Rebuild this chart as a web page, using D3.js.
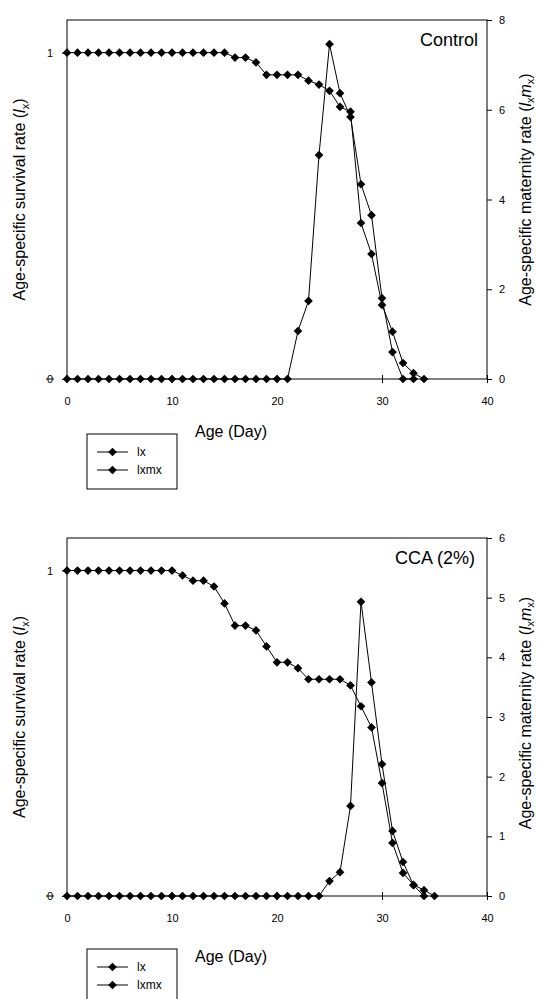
<!DOCTYPE html>
<html>
<head>
<meta charset="utf-8">
<script src="https://cdn.jsdelivr.net/npm/d3@7"></script>
<style>
  body { margin: 0; background: #fff; }
  svg { font-family: "Liberation Sans", Arial, sans-serif; }
</style>
</head>
<body>
<svg id="chart" width="538" height="999"></svg>
<script>
// ---- data (index = age in days) ----
const xTicks = [0, 10, 20, 30, 40];
const survivalTicks = [0, 1];
const controlMaternityTicks = [0, 2, 4, 6, 8];
const ccaMaternityTicks = [0, 1, 2, 3, 4, 5, 6];
const seriesNames = ["lx", "lxmx"];

const controlLx = [1, 1, 1, 1, 1, 1, 1, 1, 1, 1, 1, 1, 1, 1, 1, 1,
  0.985, 0.985, 0.97, 0.932, 0.932, 0.932, 0.932, 0.914, 0.902, 0.883,
  0.834, 0.819, 0.478, 0.383, 0.227, 0.145, 0.049, 0.018, 0];
const controlLxmx = [0, 0, 0, 0, 0, 0, 0, 0, 0, 0, 0, 0, 0, 0, 0, 0, 0, 0, 0, 0, 0, 0,
  1.07, 1.74, 4.99, 7.46, 6.37, 5.84, 4.34, 3.65, 1.80, 0.60, 0, 0];

const ccaLx = [1, 1, 1, 1, 1, 1, 1, 1, 1, 1, 1,
  0.985, 0.969, 0.969, 0.951, 0.899, 0.831, 0.831, 0.816, 0.767, 0.718,
  0.718, 0.70, 0.666, 0.666, 0.666, 0.666, 0.647, 0.583, 0.518, 0.347,
  0.163, 0.071, 0.034, 0.018, 0];
const ccaLxmx = [0, 0, 0, 0, 0, 0, 0, 0, 0, 0, 0, 0, 0, 0, 0, 0, 0, 0, 0, 0, 0, 0, 0, 0, 0,
  0.25, 0.40, 1.51, 4.93, 3.58, 2.21, 1.09, 0.57, 0.18, 0];

const panels = [
  { title: "Control", lx: controlLx, lxmx: controlLxmx, rightMax: 8, rightTicks: controlMaternityTicks,
    top: 20, bottom: 379, titleX: 478, xLabelOffset: 58, legendOffset: 55, rightTitleShift: -10 },
  { title: "CCA (2%)", lx: ccaLx, lxmx: ccaLxmx, rightMax: 6, rightTicks: ccaMaternityTicks,
    top: 538, bottom: 896, titleX: 475, xLabelOffset: 66, legendOffset: 53, rightTitleShift: -4 }
];

const left = 67, right = 487;
const svg = d3.select("#chart");
const marker = d3.symbol().type(d3.symbolSquare).size(38);

panels.forEach(p => drawPanel(p));

function drawPanel(p) {
  const g = svg.append("g");
  const x = d3.scaleLinear().domain([0, 40]).range([left, right]);
  const yL = d3.scaleLinear().domain([0, 1.1]).range([p.bottom, p.top]);
  const yR = d3.scaleLinear().domain([0, p.rightMax]).range([p.bottom, p.top]);

  // plot frame
  g.append("rect")
    .attr("x", left).attr("y", p.top)
    .attr("width", right - left).attr("height", p.bottom - p.top)
    .attr("fill", "none").attr("stroke", "#000").attr("stroke-width", 1);

  // axes
  const xAxis = g.append("g")
    .attr("transform", `translate(0,${p.bottom})`)
    .call(d3.axisBottom(x).tickValues(xTicks).tickSize(4).tickPadding(14).tickFormat(d3.format("d")));
  xAxis.selectAll(".tick").append("line").attr("y2", -4).attr("stroke", "#000");

  const yAxisL = g.append("g")
    .attr("transform", `translate(${left},0)`)
    .call(d3.axisLeft(yL).tickValues(survivalTicks).tickSize(5).tickPadding(9).tickFormat(d3.format("d")));

  const yAxisR = g.append("g")
    .attr("transform", `translate(${right},0)`)
    .call(d3.axisRight(yR).tickValues(p.rightTicks).tickSize(5).tickPadding(7).tickFormat(d3.format("d")));

  [xAxis, yAxisL, yAxisR].forEach(a => {
    a.select(".domain").remove();
    a.selectAll("text").attr("font-size", 11).attr("fill", "#000")
      .attr("font-family", "Liberation Sans, Arial, sans-serif");
    a.selectAll("line").attr("stroke", "#000");
  });

  // the stray stroke through the "0" label
  g.append("line")
    .attr("x1", 46).attr("x2", 54)
    .attr("y1", yL(0)).attr("y2", yL(0))
    .attr("stroke", "#000");

  // series
  const series = [
    { values: p.lx, y: yL },
    { values: p.lxmx, y: yR }
  ];
  series.forEach(s => {
    const pts = s.values.map((v, i) => [x(i), s.y(v)]);
    g.append("path")
      .attr("d", d3.line()(pts))
      .attr("fill", "none").attr("stroke", "#000").attr("stroke-width", 1);
    g.append("g").selectAll("path")
      .data(pts)
      .join("path")
      .attr("d", marker)
      .attr("transform", d => `translate(${d[0]},${d[1]}) rotate(45)`)
      .attr("fill", "#000");
  });

  // panel title
  g.append("text")
    .attr("x", p.titleX).attr("y", p.top + 26)
    .attr("text-anchor", "end").attr("font-size", 18)
    .text(p.title);

  // x label
  g.append("text")
    .attr("x", 231).attr("y", p.bottom + p.xLabelOffset)
    .attr("text-anchor", "middle").attr("font-size", 16)
    .text("Age (Day)");

  const midY = (p.top + p.bottom) / 2;

  // left y title
  const tl = g.append("text")
    .attr("transform", `translate(25,${midY}) rotate(-90)`)
    .attr("text-anchor", "middle").attr("font-size", 16);
  tl.append("tspan").text("Age-specific survival rate (");
  tl.append("tspan").attr("font-style", "italic").text("l");
  tl.append("tspan").attr("font-size", 11).attr("dy", 4).text("x");
  tl.append("tspan").attr("dy", -4).text(")");

  // right y title
  const tr = g.append("text")
    .attr("transform", `translate(531,${midY + p.rightTitleShift}) rotate(-90)`)
    .attr("text-anchor", "middle").attr("font-size", 16);
  tr.append("tspan").text("Age-specific maternity rate (");
  tr.append("tspan").attr("font-style", "italic").text("l");
  tr.append("tspan").attr("font-size", 11).attr("dy", 3).text("x");
  tr.append("tspan").attr("font-style", "italic").attr("dy", -3).text("m");
  tr.append("tspan").attr("font-size", 11).attr("dy", 3).text("x");
  tr.append("tspan").attr("dy", -3).text(")");

  // legend
  const ly = p.bottom + p.legendOffset;
  const lg = g.append("g");
  lg.append("rect")
    .attr("x", 87).attr("y", ly).attr("width", 90).attr("height", 55)
    .attr("fill", "#fff").attr("stroke", "#000");
  const rows = lg.selectAll("g.row")
    .data(seriesNames)
    .join("g")
    .attr("class", "row")
    .attr("transform", (d, i) => `translate(0,${ly + 18 + i * 18})`);
  rows.append("line").attr("x1", 97).attr("x2", 128).attr("stroke", "#000");
  rows.append("path").attr("d", marker).attr("transform", "translate(112.5,0) rotate(45)");
  rows.append("text").attr("x", 137).attr("dy", "0.35em").attr("font-size", 12).text(d => d);
}
</script>
</body>
</html>
